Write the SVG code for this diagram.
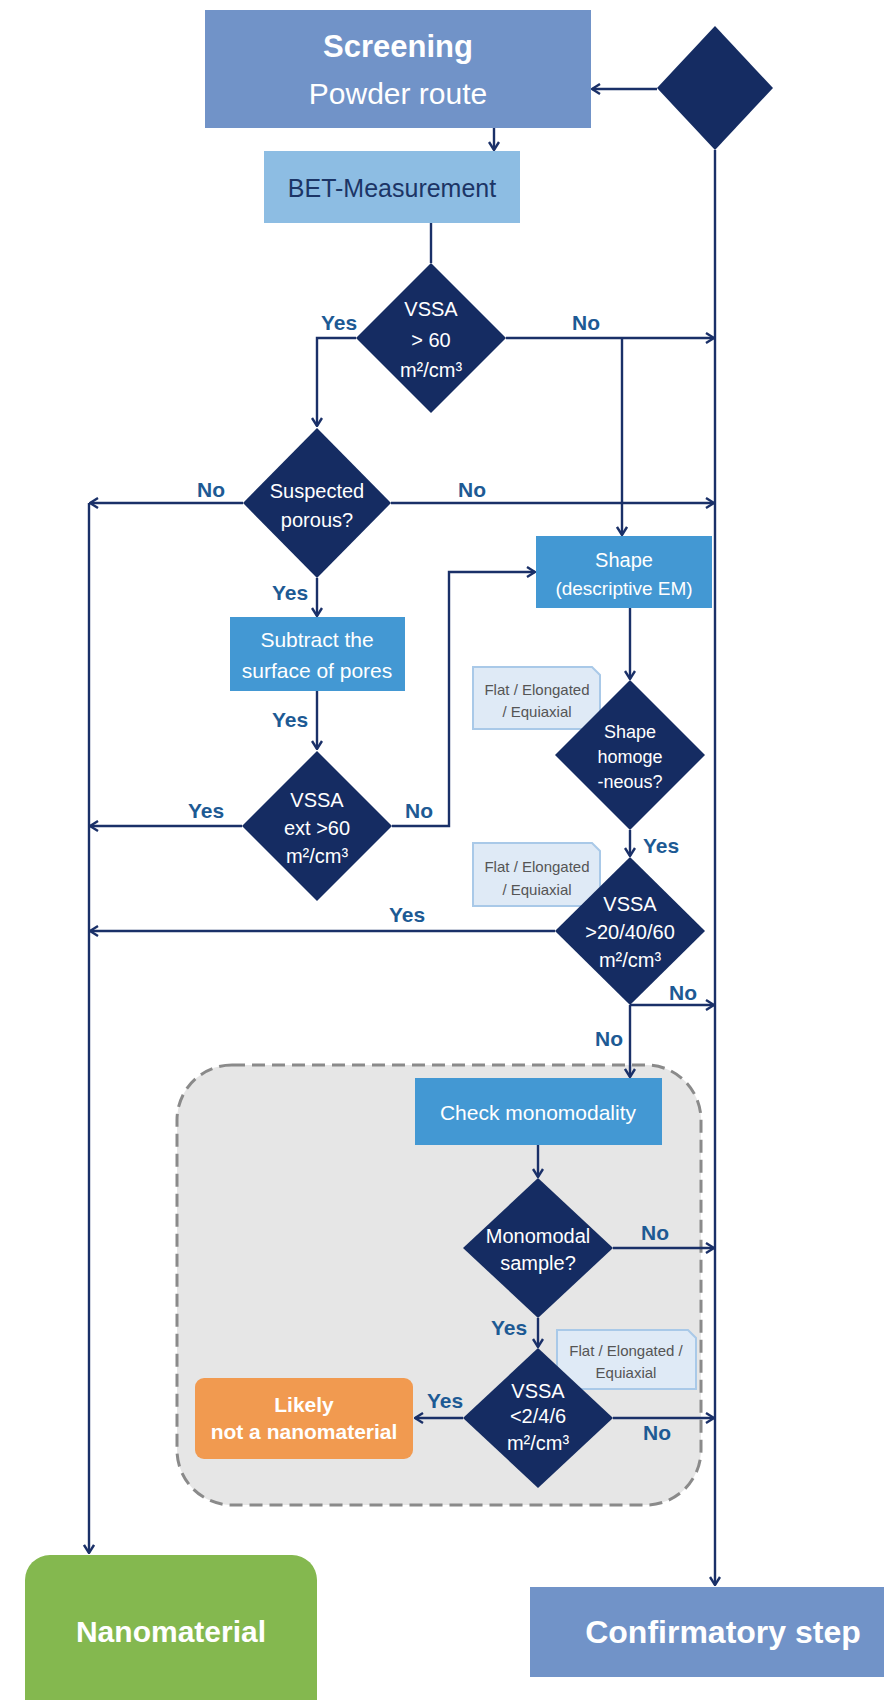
<svg xmlns="http://www.w3.org/2000/svg" width="884" height="1700" viewBox="0 0 884 1700">
  <defs>
    <marker id="arr" viewBox="0 0 10 12" markerWidth="10" markerHeight="12" refX="9" refY="6" orient="auto" markerUnits="userSpaceOnUse">
      <path d="M1,1 L9,6 L1,11" fill="none" stroke="#1a3068" stroke-width="2.4"/>
    </marker>
    <style>
      .ln { fill: none; stroke: #1a3068; stroke-width: 2.4; }
      .dia { fill: #152c62; }
      .proc { fill: #4398d3; }
      .main { fill: #7193c8; }
      .note { fill: #dfeaf6; stroke: #a9c9e8; stroke-width: 2; }
      .t { font-family: "Liberation Sans", Arial, sans-serif; text-anchor: middle; }
      .w { fill: #ffffff; }
      .dt { font-size: 20px; fill: #ffffff; }
      .yn { font-size: 21px; font-weight: bold; fill: #1d5a94; }
      .nt { font-size: 15px; fill: #555555; }
    </style>
  </defs>

  <!-- grey frame around the monomodality check -->
  <g id="monomodality-frame">
    <rect x="177" y="1065" width="524" height="440" rx="55" ry="55" fill="#e6e6e6" stroke="#8a8a8a" stroke-width="3" stroke-dasharray="13 7"/>
  </g>

  <!-- connectors -->
  <g id="connectors">
    <path class="ln" d="M657,89 H592" marker-end="url(#arr)"/>
    <path class="ln" d="M715,150 V1585" marker-end="url(#arr)"/>
    <path class="ln" d="M494,128 V150" marker-end="url(#arr)"/>
    <path class="ln" d="M431,223 V263"/>
    <path class="ln" d="M356,338 H317 V426" marker-end="url(#arr)"/>
    <path class="ln" d="M506,338 H714" marker-end="url(#arr)"/>
    <path class="ln" d="M622,338 V535" marker-end="url(#arr)"/>
    <path class="ln" d="M243,503 H90" marker-end="url(#arr)"/>
    <path class="ln" d="M391,503 H714" marker-end="url(#arr)"/>
    <path class="ln" d="M317,578 V616" marker-end="url(#arr)"/>
    <path class="ln" d="M317,691 V749" marker-end="url(#arr)"/>
    <path class="ln" d="M242,826 H90" marker-end="url(#arr)"/>
    <path class="ln" d="M392,826 H449 V572 H535" marker-end="url(#arr)"/>
    <path class="ln" d="M630,608 V679" marker-end="url(#arr)"/>
    <path class="ln" d="M630,830 V856" marker-end="url(#arr)"/>
    <path class="ln" d="M555,931 H90" marker-end="url(#arr)"/>
    <path class="ln" d="M630,1005 H714" marker-end="url(#arr)"/>
    <path class="ln" d="M630,1005 V1077" marker-end="url(#arr)"/>
    <path class="ln" d="M538,1145 V1177" marker-end="url(#arr)"/>
    <path class="ln" d="M613,1248 H714" marker-end="url(#arr)"/>
    <path class="ln" d="M538,1318 V1347" marker-end="url(#arr)"/>
    <path class="ln" d="M463,1418 H415" marker-end="url(#arr)"/>
    <path class="ln" d="M613,1418 H714" marker-end="url(#arr)"/>
    <path class="ln" d="M89,503 V1553" marker-end="url(#arr)"/>
  </g>

  <!-- branch labels -->
  <g id="branch-labels" class="t yn">
    <text x="339" y="330">Yes</text>
    <text x="586" y="330">No</text>
    <text x="211" y="497">No</text>
    <text x="472" y="497">No</text>
    <text x="290" y="600">Yes</text>
    <text x="290" y="727">Yes</text>
    <text x="206" y="818">Yes</text>
    <text x="419" y="818">No</text>
    <text x="661" y="853">Yes</text>
    <text x="407" y="922">Yes</text>
    <text x="683" y="1000">No</text>
    <text x="609" y="1046">No</text>
    <text x="655" y="1240">No</text>
    <text x="509" y="1335">Yes</text>
    <text x="445" y="1408">Yes</text>
    <text x="657" y="1440">No</text>
  </g>

  <g id="screening">
    <rect class="main" x="205" y="10" width="386" height="118"/>
    <text class="t w" x="398" y="57" font-size="31" font-weight="bold">Screening</text>
    <text class="t w" x="398" y="104" font-size="30">Powder route</text>
  </g>

  <g id="start-decision">
    <polygon class="dia" points="715,26 773,88 715,150 657,88"/>
  </g>

  <g id="bet">
    <rect x="264" y="151" width="256" height="72" fill="#8dbde3"/>
    <text class="t" x="392" y="197" font-size="25" fill="#1c3566">BET-Measurement</text>
  </g>

  <g id="vssa-60">
    <polygon class="dia" points="431,263 506,338 431,413 356,338"/>
    <text class="t dt" x="431" y="316">VSSA</text>
    <text class="t dt" x="431" y="347">&gt; 60</text>
    <text class="t dt" x="431" y="377">m²/cm³</text>
  </g>

  <g id="porous">
    <polygon class="dia" points="317,428 391,503 317,578 243,503"/>
    <text class="t dt" x="317" y="498">Suspected</text>
    <text class="t dt" x="317" y="527">porous?</text>
  </g>

  <g id="subtract">
    <rect class="proc" x="230" y="617" width="175" height="74"/>
    <text class="t w" x="317" y="647" font-size="21">Subtract the</text>
    <text class="t w" x="317" y="678" font-size="21">surface of pores</text>
  </g>

  <g id="vssa-ext">
    <polygon class="dia" points="317,751 392,826 317,901 242,826"/>
    <text class="t dt" x="317" y="807">VSSA</text>
    <text class="t dt" x="317" y="835">ext &gt;60</text>
    <text class="t dt" x="317" y="863">m²/cm³</text>
  </g>

  <g id="shape">
    <rect class="proc" x="536" y="536" width="176" height="72"/>
    <text class="t w" x="624" y="567" font-size="20">Shape</text>
    <text class="t w" x="624" y="595" font-size="19">(descriptive EM)</text>
  </g>

  <g id="note-1">
    <path class="note" d="M473,667 H592 L600,675 V729 H473 Z"/>
    <text class="t nt" x="537" y="695">Flat / Elongated</text>
    <text class="t nt" x="537" y="717">/ Equiaxial</text>
  </g>

  <g id="shape-homogeneous">
    <polygon class="dia" points="630,680 705,755 630,830 555,755"/>
    <text class="t dt" x="630" y="738" font-size="18" style="font-size:18px">Shape</text>
    <text class="t dt" x="630" y="763" style="font-size:18px">homoge</text>
    <text class="t dt" x="630" y="788" style="font-size:18px">-neous?</text>
  </g>

  <g id="note-2">
    <path class="note" d="M473,843 H592 L600,851 V906 H473 Z"/>
    <text class="t nt" x="537" y="872">Flat / Elongated</text>
    <text class="t nt" x="537" y="895">/ Equiaxial</text>
  </g>

  <g id="vssa-shape">
    <polygon class="dia" points="630,857 705,931 630,1005 555,931"/>
    <text class="t dt" x="630" y="911">VSSA</text>
    <text class="t dt" x="630" y="939">&gt;20/40/60</text>
    <text class="t dt" x="630" y="967">m²/cm³</text>
  </g>

  <g id="check-monomodality">
    <rect class="proc" x="415" y="1078" width="247" height="67"/>
    <text class="t w" x="538" y="1120" font-size="21">Check monomodality</text>
  </g>

  <g id="monomodal">
    <polygon class="dia" points="538,1178 613,1248 538,1318 463,1248"/>
    <text class="t dt" x="538" y="1243">Monomodal</text>
    <text class="t dt" x="538" y="1270">sample?</text>
  </g>

  <g id="note-3">
    <path class="note" d="M557,1330 H688 L696,1338 V1389 H557 Z"/>
    <text class="t nt" x="626" y="1356">Flat / Elongated /</text>
    <text class="t nt" x="626" y="1378">Equiaxial</text>
  </g>

  <g id="vssa-low">
    <polygon class="dia" points="538,1348 613,1418 538,1488 463,1418"/>
    <text class="t dt" x="538" y="1398">VSSA</text>
    <text class="t dt" x="538" y="1423">&lt;2/4/6</text>
    <text class="t dt" x="538" y="1450">m²/cm³</text>
  </g>

  <g id="likely-not-nano">
    <rect x="195" y="1378" width="218" height="81" rx="9" ry="9" fill="#f19a50"/>
    <text class="t w" x="304" y="1412" font-size="21" font-weight="bold">Likely</text>
    <text class="t w" x="304" y="1439" font-size="21" font-weight="bold">not a nanomaterial</text>
  </g>

  <g id="nanomaterial">
    <rect x="25" y="1555" width="292" height="175" rx="25" ry="25" fill="#84b84f"/>
    <text class="t w" x="171" y="1642" font-size="30" font-weight="bold">Nanomaterial</text>
  </g>

  <g id="confirmatory">
    <rect class="main" x="530" y="1587" width="360" height="90"/>
    <text class="t w" x="723" y="1643" font-size="32" font-weight="bold">Confirmatory step</text>
  </g>
</svg>
